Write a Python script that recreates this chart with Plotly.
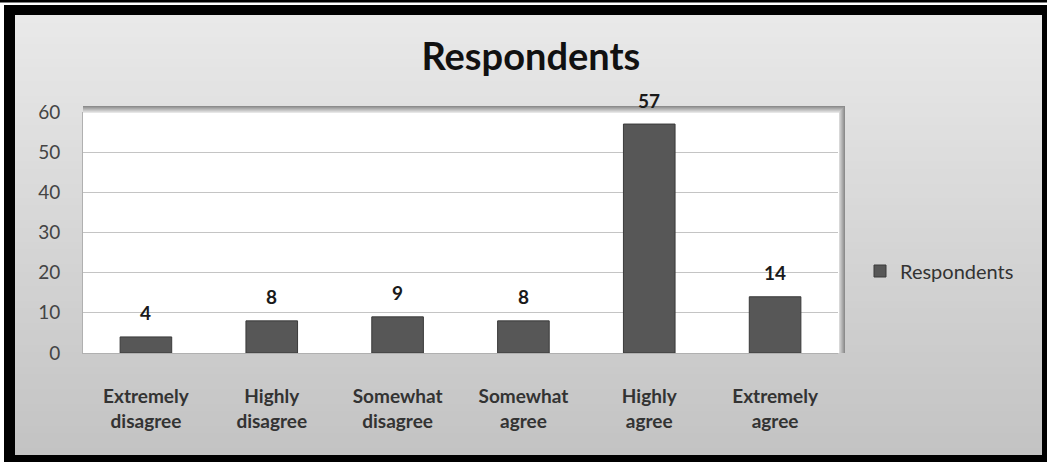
import plotly.graph_objects as go

# Survey responses
categories = ["Extremely<br>disagree", "Highly<br>disagree", "Somewhat<br>disagree",
              "Somewhat<br>agree", "Highly<br>agree", "Extremely<br>agree"]
respondents = [4, 8, 9, 8, 57, 14]
y_ticks = [0, 10, 20, 30, 40, 50, 60]

W, H = 1047, 462
L, R, T, B = 83, 838, 112, 353  # plot area in pixels


def px(x):
    return (x - L) / (R - L)


def py(y):
    return (B - y) / (B - T)


shapes = []
# outer frame
shapes.append(dict(type="line", xref="paper", yref="paper", x0=px(0), x1=px(W),
                   y0=py(1), y1=py(1), line=dict(color="black", width=3), layer="below"))
shapes.append(dict(type="rect", xref="paper", yref="paper", x0=px(4), x1=px(W),
                   y0=py(5), y1=py(H), fillcolor="black", line=dict(width=0), layer="below"))
# panel with vertical gradient (light top -> darker bottom); each band runs to the
# panel bottom so later bands cover earlier ones without seams
n = 60
top, bot = 15, 455
for i in range(n):
    y0 = top + (bot - top) * i / n
    t = i / (n - 1)
    c = int(round(233 - t * (233 - 195)))
    shapes.append(dict(type="rect", xref="paper", yref="paper", x0=px(15), x1=px(1042),
                       y0=py(y0), y1=py(bot), fillcolor=f"rgb({c},{c},{c})",
                       line=dict(width=0), layer="below"))
# soft shadow along top and right of plot area
for k, c in enumerate([140, 155, 170, 185, 200, 215, 230]):
    shapes.append(dict(type="rect", xref="paper", yref="paper",
                       x0=px(L), x1=px(R + 7 - k), y0=py(T - 6 + k), y1=py(T - 5 + k),
                       fillcolor=f"rgb({c},{c},{c})", line=dict(width=0), layer="below"))
    shapes.append(dict(type="rect", xref="paper", yref="paper",
                       x0=px(R + 6 - k), x1=px(R + 7 - k), y0=py(B), y1=py(T - 6 + k),
                       fillcolor=f"rgb({c},{c},{c})", line=dict(width=0), layer="below"))
# white plot area
shapes.append(dict(type="rect", xref="paper", yref="paper", x0=0, x1=px(R + 1),
                   y0=0, y1=py(T + 1), fillcolor="white", line=dict(width=0), layer="below"))

# value labels above the bars
annotations = [dict(x=c, y=v, xref="x", yref="y", text=f"<b>{v}</b>", showarrow=False,
                    yshift=24, yanchor="middle",
                    font=dict(family="Lato", size=19, color="#1a1a1a"))
               for c, v in zip(categories, respondents)]

fig = go.Figure()
fig.add_trace(go.Bar(
    x=categories, y=respondents, name="Respondents",
    marker=dict(color="#575757", line=dict(color="#3a3a3a", width=1)),
    width=0.41,
))

fig.update_layout(
    width=W, height=H,
    margin=dict(l=L, r=W - R, t=T, b=H - B),
    paper_bgcolor="white",
    plot_bgcolor="rgba(0,0,0,0)",
    shapes=shapes,
    annotations=annotations,
    title=dict(text="<b>Respondents</b>", xref="container", yref="container",
               x=0.507, y=1 - 57 / H, xanchor="center", yanchor="middle",
               font=dict(family="Lato", size=38, color="#111111")),
    showlegend=True,
    legend=dict(x=px(860), y=py(271), xanchor="left", yanchor="middle",
                bgcolor="rgba(0,0,0,0)", itemwidth=30,
                font=dict(family="Lato", size=20, color="#333333")),
    xaxis=dict(showgrid=False, showline=True, linecolor="#b0b0b0", linewidth=1,
               tickfont=dict(family="Lato", size=19, color="#333333", weight="bold"),
               ticks="", ticklabelstandoff=26),
    yaxis=dict(range=[0, 60], tickvals=y_ticks, showgrid=True, gridcolor="#c4c4c4",
               gridwidth=1, showline=True, linecolor="#b0b0b0", zeroline=False,
               tickfont=dict(family="Lato", size=19, color="#444444"), ticks="",
               ticklabelstandoff=18),
    bargap=0.59,
)

fig.write_html("out.html")
